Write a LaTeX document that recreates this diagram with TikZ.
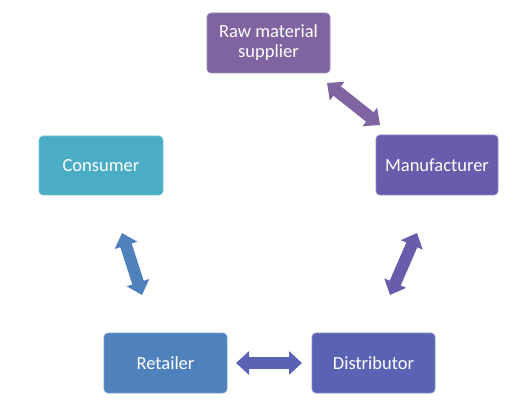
\documentclass[tikz,border=0pt]{standalone}
\usepackage{fontspec}
\setmainfont{Carlito}
\usetikzlibrary{arrows.meta}
\definecolor{cRaw}{HTML}{8064A2}
\definecolor{cCons}{HTML}{4BACC6}
\definecolor{cMan}{HTML}{6A5BAD}
\definecolor{cRet}{HTML}{4F81BD}
\definecolor{cDist}{HTML}{5A63B3}
\tikzset{
  box/.style={draw=#1!75!white, line width=0.6pt, fill=#1, rounded corners=4pt,
    text=white, font=\fontsize{18.5}{21}\selectfont, align=center, inner sep=0pt},
  dbl/.style={draw=#1, line width=12pt,
    {Triangle[length=13pt,width=23pt]}-{Triangle[length=13pt,width=23pt]}}
}
\begin{document}
\begin{tikzpicture}[x=1pt,y=-1pt]
\useasboundingbox (0,0) rectangle (521,419);
\node[box=cRaw, minimum width=123pt, minimum height=60pt] (raw) at (268.5,43) {Raw material\\[-1pt]supplier};
\node[box=cCons, minimum width=124pt, minimum height=59pt] (cons) at (101,165.5) {Consumer};
\node[box=cMan, minimum width=122pt, minimum height=60pt] (man) at (437,165) {Manufacturer};
\node[box=cRet, minimum width=123pt, minimum height=60pt] (ret) at (165.5,363) {Retailer};
\node[box=cDist, minimum width=123pt, minimum height=60pt] (dist) at (373.5,363) {Distributor};
\coordinate (a1) at (327,83);
\coordinate (a2) at (380,125);
\coordinate (b1) at (122,233);
\coordinate (b2) at (142,295);
\coordinate (c1) at (417,233);
\coordinate (c2) at (390,295);
\coordinate (d1) at (236,363);
\coordinate (d2) at (302,363);
\draw[dbl=cRaw] (a1) -- (a2);
\draw[dbl=cRet] (b1) -- (b2);
\draw[dbl=cMan] (c1) -- (c2);
\draw[dbl=cDist] (d1) -- (d2);
\end{tikzpicture}
\end{document}
